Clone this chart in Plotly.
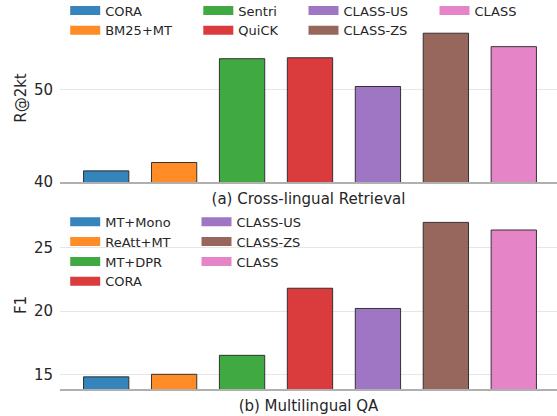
import plotly.graph_objects as go

# (a) Cross-lingual Retrieval
RET_METHODS = ["CORA", "BM25+MT", "Sentri", "QuiCK", "CLASS-US", "CLASS-ZS", "CLASS"]
RET_SCORES = [41.2, 42.1, 53.3, 53.4, 50.3, 56.05, 54.6]

# (b) Multilingual QA
QA_METHODS = ["MT+Mono", "ReAtt+MT", "MT+DPR", "CORA", "CLASS-US", "CLASS-ZS", "CLASS"]
QA_SCORES = [14.8, 15.0, 16.5, 21.8, 20.2, 27.0, 26.4]

COLORS = [
    "rgba(31,119,180,0.9)",
    "rgba(255,127,14,0.9)",
    "rgba(44,160,44,0.9)",
    "rgba(214,39,40,0.9)",
    "rgba(148,103,189,0.9)",
    "rgba(140,86,75,0.9)",
    "rgba(227,119,194,0.9)",
]

FONT = "DejaVu Sans"

# which legend column each entry goes in
RET_LEGENDS = ["legend", "legend", "legend2", "legend2", "legend3", "legend3", "legend4"]
QA_LEGENDS = ["legend5", "legend5", "legend5", "legend5", "legend6", "legend6", "legend6"]

fig = go.Figure()

fig.add_trace(go.Bar(
    x=RET_METHODS, y=RET_SCORES, width=0.667,
    marker=dict(color=COLORS, line=dict(color="rgba(35,35,35,0.9)", width=1)),
    xaxis="x", yaxis="y", showlegend=False,
))
fig.add_trace(go.Bar(
    x=QA_METHODS, y=QA_SCORES, width=0.667,
    marker=dict(color=COLORS, line=dict(color="rgba(35,35,35,0.9)", width=1)),
    xaxis="x2", yaxis="y2", showlegend=False,
))

# legend-only entries (wide rectangular swatches)
for name, color, lg in zip(RET_METHODS, COLORS, RET_LEGENDS):
    fig.add_trace(go.Scatter(
        x=[name], y=[None], mode="lines", name=name,
        line=dict(color=color, width=9), xaxis="x", yaxis="y", legend=lg,
    ))
for name, color, lg in zip(QA_METHODS, COLORS, QA_LEGENDS):
    fig.add_trace(go.Scatter(
        x=[name], y=[None], mode="lines", name=name,
        line=dict(color=color, width=9), xaxis="x2", yaxis="y2", legend=lg,
    ))

axis_line = dict(showline=True, linecolor="#b0b0b0", linewidth=2)
xcommon = dict(
    type="category", showticklabels=False, ticks="", showgrid=False, zeroline=False,
    range=[-0.68, 6.636], automargin=False, **axis_line,
)
ycommon = dict(
    ticks="outside", ticklen=3, tickcolor="rgba(0,0,0,0)", automargin=False,
    showgrid=True, gridcolor="#e6e6e6", gridwidth=1, zeroline=False,
    showline=False, tickfont=dict(size=15, color="#262626"),
)

legend_common = dict(
    xanchor="left", yanchor="top",
    orientation="v", bgcolor="rgba(0,0,0,0)", borderwidth=0,
    font=dict(family=FONT, size=13, color="#262626"), tracegroupgap=0,
)

TOP_LEG_Y = (389 + 4.5) / 375
BOT_LEG_Y = (389 - 206.7) / 375


def lx(px):
    return (px - 60) / 497


fig.update_layout(
    width=557, height=416,
    margin=dict(l=60, r=0, t=14, b=27, autoexpand=False),
    paper_bgcolor="white", plot_bgcolor="white",
    font=dict(family=FONT, size=15, color="#262626"),
    barmode="overlay",
    xaxis=dict(domain=[0, 1], anchor="y",
               title=dict(text="(a) Cross-lingual Retrieval", standoff=10, font=dict(size=15)),
               **xcommon),
    yaxis=dict(domain=[0.552, 1], anchor="x", range=[40, 58.12], dtick=10,
               title=dict(text="R@2kt", standoff=3, font=dict(size=15)), **ycommon),
    xaxis2=dict(domain=[0, 1], anchor="y2",
                title=dict(text="(b) Multilingual QA", standoff=10, font=dict(size=15)),
                **xcommon),
    yaxis2=dict(domain=[0, 0.448], anchor="x2", range=[13.84, 27.11], dtick=5,
                title=dict(text="F1", standoff=3, font=dict(size=15)), **ycommon),
    legend=dict(x=lx(65.2), y=TOP_LEG_Y, **legend_common),
    legend2=dict(x=lx(198.3), y=TOP_LEG_Y, **legend_common),
    legend3=dict(x=lx(303.5), y=TOP_LEG_Y, **legend_common),
    legend4=dict(x=lx(434.5), y=TOP_LEG_Y, **legend_common),
    legend5=dict(x=lx(65.2), y=BOT_LEG_Y, **legend_common),
    legend6=dict(x=lx(196.5), y=BOT_LEG_Y, **legend_common),
)

fig.write_html(
    "out.html",
    config={"displayModeBar": False},
    post_script="document.body.style.margin = '0';",
)
